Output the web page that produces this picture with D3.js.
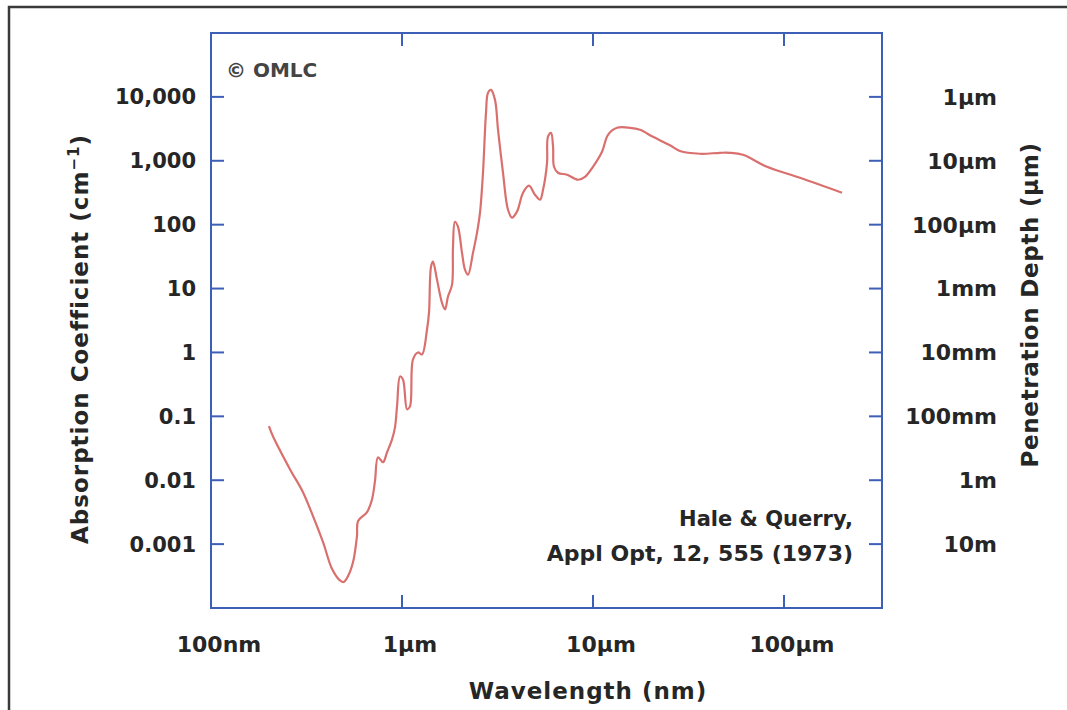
<!DOCTYPE html>
<html>
<head>
<meta charset="utf-8">
<script src="https://cdn.jsdelivr.net/npm/d3@7"></script>
<style>
  html, body { margin: 0; padding: 0; background: #fff; }
  svg { display: block; }
  text { font-family: "DejaVu Sans", sans-serif; font-weight: bold; fill: #262626; }
</style>
</head>
<body>
<div id="chart"></div>
<script>
// wavelength (nm) and absorption coefficient (cm^-1)
const wavelength = [201, 211, 259, 303, 342, 386, 430, 470, 494, 520, 554, 581, 589, 656, 697, 722, 749, 795, 835, 887, 919,
  942, 977, 1012, 1063, 1101, 1142, 1213, 1273, 1352, 1385, 1419, 1453, 1525, 1619, 1680, 1741, 1828, 1849, 1893, 1963,
  2061, 2137, 2217, 2355, 2471, 2561, 2655, 2753, 2820, 2924, 3069, 3183, 3379, 3589, 3766, 4000, 4303, 4623, 4970, 5280,
  5476, 5746, 5810, 6030, 6180, 6250, 6560, 7310, 8340, 9080, 10000, 11150, 11990, 13360, 15640, 17630, 20620, 25290,
  28520, 36310, 46240, 52160, 60980, 81450, 121300, 201300];
const absorption = [0.070, 0.0487, 0.0149, 0.0065, 0.00274, 0.00107, 0.00041, 0.000275, 0.000255, 0.00031, 0.00052, 0.00133, 0.0023,
  0.00316, 0.00505, 0.00965, 0.0229, 0.0191, 0.0274, 0.0437, 0.0673, 0.143, 0.42, 0.378, 0.129, 0.143, 0.778, 1.0, 0.93,
  2.29, 4.2, 22, 26.4, 13.8, 6.0, 4.7, 7.5, 11.5, 45, 111, 93, 36.5, 19.8, 16.5, 36.5, 75, 154, 650, 5620, 11550, 12880,
  8980, 3050, 650, 171, 129, 160, 316, 407, 294, 246, 352, 930, 2370, 2740, 1655, 806, 650, 604, 505, 562, 806, 1383,
  2550, 3280, 3280, 3050, 2370, 1750, 1420, 1288, 1333, 1333, 1241, 806, 542, 316];

const xTicks = [100, 1000, 10000, 100000];
const xTickLabels = ['100nm', '1µm', '10µm', '100µm'];
const yTicks = [10000, 1000, 100, 10, 1, 0.1, 0.01, 0.001];
const yTickLabels = ['10,000', '1,000', '100', '10', '1', '0.1', '0.01', '0.001'];
const depthLabels = ['1µm', '10µm', '100µm', '1mm', '10mm', '100mm', '1m', '10m'];

const width = 1067, height = 710;
const plot = {left: 211, right: 882, top: 33, bottom: 608};
const axisColor = '#3d5fb8';

const svg = d3.select('#chart').append('svg')
  .attr('width', width)
  .attr('height', height);

// outer frame (only top and left edges visible)
svg.append('path')
  .attr('d', `M9,${height} L9,7 L${width},7`)
  .attr('fill', 'none')
  .attr('stroke', '#3a3a3a')
  .attr('stroke-width', 2.5);

const xScale = d3.scaleLog()
  .domain([100, 326000])
  .range([plot.left, plot.right]);
const yScale = d3.scaleLog()
  .domain([1e-4, 1e5])
  .range([plot.bottom, plot.top]);

// ticks, pointing inwards
const tickLen = 13;
const axisG = svg.append('g').attr('stroke', axisColor).attr('stroke-width', 2);
yTicks.forEach(v => {
  axisG.append('line')
    .attr('x1', plot.left).attr('x2', plot.left + tickLen)
    .attr('y1', yScale(v)).attr('y2', yScale(v));
  axisG.append('line')
    .attr('x1', plot.right).attr('x2', plot.right - tickLen)
    .attr('y1', yScale(v)).attr('y2', yScale(v));
});
xTicks.slice(1).forEach(v => {
  axisG.append('line')
    .attr('x1', xScale(v)).attr('x2', xScale(v))
    .attr('y1', plot.bottom).attr('y2', plot.bottom - tickLen);
  axisG.append('line')
    .attr('x1', xScale(v)).attr('x2', xScale(v))
    .attr('y1', plot.top).attr('y2', plot.top + tickLen);
});

svg.append('rect')
  .attr('x', plot.left)
  .attr('y', plot.top)
  .attr('width', plot.right - plot.left)
  .attr('height', plot.bottom - plot.top)
  .attr('fill', 'none')
  .attr('stroke', axisColor)
  .attr('stroke-width', 2);

// the curve
const line = d3.line()
  .x((d, i) => xScale(wavelength[i]))
  .y(d => yScale(d))
  .curve(d3.curveCatmullRom.alpha(0.5));

svg.append('path')
  .datum(absorption)
  .attr('d', line)
  .attr('fill', 'none')
  .attr('stroke', '#d9706e')
  .attr('stroke-width', 2.2)
  .attr('stroke-linejoin', 'round');

// tick labels
svg.selectAll('.ylab')
  .data(yTicks)
  .enter().append('text')
  .attr('class', 'ylab')
  .attr('x', 196)
  .attr('y', d => yScale(d))
  .attr('dy', '0.36em')
  .attr('text-anchor', 'end')
  .style('font-size', '21px')
  .text((d, i) => yTickLabels[i]);

svg.selectAll('.rlab')
  .data(yTicks)
  .enter().append('text')
  .attr('class', 'rlab')
  .attr('x', 997)
  .attr('y', d => yScale(d))
  .attr('dy', '0.36em')
  .attr('text-anchor', 'end')
  .style('font-size', '22px')
  .text((d, i) => depthLabels[i]);

svg.selectAll('.xlab')
  .data(xTicks)
  .enter().append('text')
  .attr('class', 'xlab')
  .attr('x', d => xScale(d) + 8)
  .attr('y', 652)
  .attr('text-anchor', 'middle')
  .style('font-size', '22px')
  .text((d, i) => xTickLabels[i]);

// axis titles
svg.append('text')
  .attr('x', 588)
  .attr('y', 699)
  .attr('text-anchor', 'middle')
  .style('font-size', '23px')
  .style('letter-spacing', '1px')
  .text('Wavelength (nm)');

const yTitle = svg.append('text')
  .attr('transform', 'translate(88,339) rotate(-90)')
  .attr('text-anchor', 'middle')
  .style('font-size', '23px')
  .style('letter-spacing', '1px');
yTitle.append('tspan').text('Absorption Coefficient (cm');
yTitle.append('tspan').attr('dy', -9).style('font-size', '15px').text('−1');
yTitle.append('tspan').attr('dy', 9).text(')');

svg.append('text')
  .attr('transform', 'translate(1038,305) rotate(-90)')
  .attr('text-anchor', 'middle')
  .style('font-size', '23px')
  .style('letter-spacing', '0.7px')
  .text('Penetration Depth (µm)');

// annotations
svg.append('text')
  .attr('x', 226)
  .attr('y', 77)
  .style('font-size', '20px')
  .style('fill', '#444')
  .text('© OMLC');

svg.append('text')
  .attr('x', 853)
  .attr('y', 526)
  .attr('text-anchor', 'end')
  .style('font-size', '21px')
  .text('Hale & Querry,');

svg.append('text')
  .attr('x', 853)
  .attr('y', 561)
  .attr('text-anchor', 'end')
  .style('font-size', '22px')
  .text('Appl Opt, 12, 555 (1973)');
</script>
</body>
</html>
